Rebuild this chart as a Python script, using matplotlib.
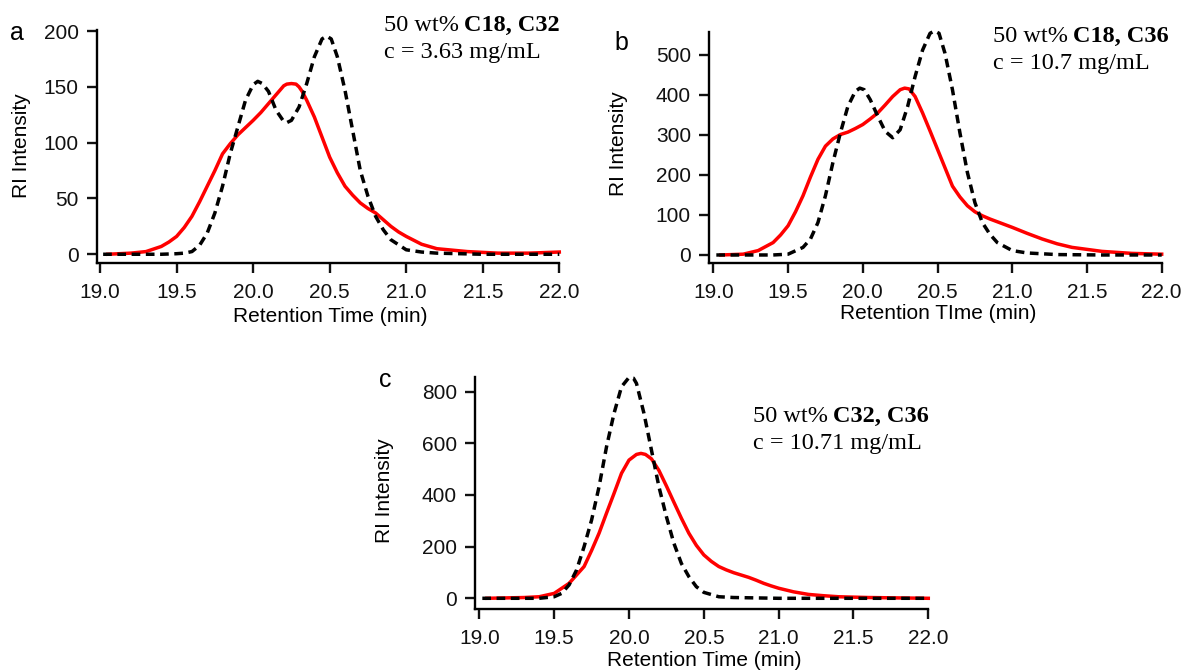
import matplotlib.pyplot as plt

plt.rcParams['font.family'] = 'Liberation Sans'

# --- panel a: 50 wt% C18, C32 ---
a_red_x = [19.05, 19.2, 19.3, 19.4, 19.45, 19.5, 19.55, 19.6, 19.65, 19.7, 19.75, 19.8, 19.85, 19.9, 20.0,
           20.05, 20.1, 20.15, 20.2, 20.22, 20.25, 20.28, 20.3, 20.32, 20.35, 20.4, 20.45, 20.5, 20.55,
           20.6, 20.65, 20.7, 20.75, 20.8, 20.85, 20.9, 20.95, 21.0, 21.1, 21.2, 21.4, 21.6, 21.8, 22.0]
a_red_y = [0, 1, 2.4, 7, 11, 16, 24, 34, 47, 61, 75, 90, 99, 107, 120,
           127, 135, 143, 151, 152.5, 153, 152.5, 150, 146, 138, 123, 105, 87, 73,
           61, 53, 46, 41, 37, 31, 25, 20, 16, 9, 5, 2.4, 1, 1, 2]
a_dash_x = [19.02, 19.2, 19.4, 19.5, 19.55, 19.6, 19.65, 19.7, 19.75, 19.8, 19.85, 19.9, 19.95, 20.0, 20.03,
            20.06, 20.1, 20.15, 20.2, 20.22, 20.25, 20.3, 20.35, 20.4, 20.45, 20.48, 20.51, 20.55, 20.6,
            20.65, 20.7, 20.75, 20.8, 20.85, 20.9, 21.0, 21.1, 21.2, 21.5, 22.0]
a_dash_y = [0, 0, 0, 0.5, 1, 2.4, 8, 19, 37, 61, 90, 114, 138, 152, 155,
            153, 146, 129, 119, 118, 120, 132, 153, 177, 193, 195.5, 193, 177, 147,
            111, 75, 52, 34, 22, 13, 4, 2, 1, 0, 0]

# --- panel b: 50 wt% C18, C36 ---
b_red_x = [19.05, 19.2, 19.3, 19.4, 19.45, 19.5, 19.55, 19.6, 19.65, 19.7, 19.75, 19.8, 19.85, 19.9, 19.95,
           20.0, 20.05, 20.1, 20.15, 20.2, 20.25, 20.28, 20.31, 20.35, 20.4, 20.45, 20.5, 20.55, 20.6,
           20.65, 20.7, 20.75, 20.8, 20.85, 20.9, 21.0, 21.1, 21.2, 21.3, 21.4, 21.6, 21.8, 22.0]
b_red_y = [0, 2, 11, 31, 50, 73, 108, 148, 195, 239, 272, 290, 301, 307, 316,
           326, 340, 355, 375, 396, 413, 417, 415, 396, 355, 310, 264, 218, 172,
           145, 123, 108, 98, 90, 83, 69, 54, 40, 28, 19, 9, 4, 2]
b_dash_x = [19.02, 19.2, 19.4, 19.5, 19.6, 19.65, 19.7, 19.75, 19.8, 19.85, 19.9, 19.95, 19.98, 20.01,
            20.05, 20.1, 20.15, 20.2, 20.25, 20.3, 20.35, 20.4, 20.45, 20.48, 20.51, 20.55, 20.6, 20.65,
            20.7, 20.75, 20.8, 20.85, 20.9, 21.0, 21.1, 21.3, 21.6, 22.0]
b_dash_y = [0, 0, 0, 2, 19, 40, 81, 148, 231, 305, 371, 409, 417, 413,
            388, 347, 309, 293, 313, 371, 446, 512, 554, 560, 554, 504, 413, 305,
            206, 131, 81, 52, 31, 11, 5, 1, 0, 0]

# --- panel c: 50 wt% C32, C36 ---
c_red_x = [19.05, 19.3, 19.4, 19.5, 19.6, 19.7, 19.75, 19.8, 19.85, 19.9, 19.95, 20.0, 20.05, 20.08,
           20.11, 20.15, 20.2, 20.25, 20.3, 20.35, 20.4, 20.45, 20.5, 20.55, 20.6, 20.65, 20.7, 20.75,
           20.8, 20.85, 20.9, 20.95, 21.0, 21.1, 21.2, 21.3, 21.4, 21.6, 22.0]
c_red_y = [0, 3, 6, 19, 58, 123, 185, 252, 330, 406, 484, 535, 557, 561,
           557, 540, 495, 435, 372, 310, 252, 205, 168, 143, 123, 110, 99, 90,
           81, 70, 58, 48, 39, 25, 15, 10, 6, 3, 0]
c_dash_x = [19.02, 19.2, 19.4, 19.5, 19.55, 19.6, 19.65, 19.7, 19.75, 19.8, 19.85, 19.9, 19.95, 20.0,
            20.03, 20.05, 20.1, 20.15, 20.2, 20.25, 20.3, 20.35, 20.4, 20.45, 20.5, 20.6, 20.7, 21.0, 22.0]
c_dash_y = [0, 0, 0, 6, 19, 52, 110, 200, 303, 432, 587, 716, 819, 855,
            852, 832, 716, 574, 432, 316, 213, 135, 84, 45, 23, 6, 3, 0, 0]

x_ticks = [19.0, 19.5, 20.0, 20.5, 21.0, 21.5, 22.0]
W, H = 1188, 672


def px_rect(left, top, right, bottom):
    return [left / W, 1 - bottom / H, (right - left) / W, (bottom - top) / H]


def draw_panel(rect, xlim, ylim, yticks, red, dash):
    ax = fig.add_axes(rect)
    ax.plot(red[0], red[1], color='#ff0000', lw=2.5, clip_on=False, zorder=2,
            solid_joinstyle='round')
    ax.plot(dash[0], dash[1], color='black', lw=2.5, ls=(0, (2.5, 1.6)), clip_on=False, zorder=3)
    ax.set_xlim(*xlim)
    ax.set_ylim(*ylim)
    ax.set_xticks(x_ticks)
    ax.set_xticklabels([f'{t:.1f}' for t in x_ticks])
    ax.set_yticks(yticks)
    for s in ['top', 'right']:
        ax.spines[s].set_visible(False)
    for s in ['left', 'bottom']:
        ax.spines[s].set_linewidth(1.7)
    ax.tick_params(direction='out', length=7.5, width=1.7, labelsize=15, colors='#111111')
    ax.tick_params(axis='x', pad=7)
    ax.tick_params(axis='y', pad=5.5)
    return ax


def note(x, y, bold, second):
    t1 = fig.text(x / W, 1 - y / H, '50 wt%', family='Liberation Serif', fontsize=17.5, va='baseline')
    fig.canvas.draw()
    bb = t1.get_window_extent()
    fig.text((bb.x1 + 5) / W, 1 - y / H, bold, family='Liberation Serif', fontsize=17.5,
             fontweight='bold', va='baseline')
    fig.text(x / W, 1 - (y + 27) / H, second, family='Liberation Serif', fontsize=17.5, va='baseline')


fig = plt.figure(figsize=(11.88, 6.72), dpi=100)

draw_panel(px_rect(96.7, 30, 559.3, 263.3), (18.978, 22.0), (-8.1, 201), [0, 50, 100, 150, 200],
           (a_red_x, a_red_y), (a_dash_x, a_dash_y))
draw_panel(px_rect(709, 31.7, 1161.7, 263.3), (18.971, 22.0), (-20.8, 558), [0, 100, 200, 300, 400, 500],
           (b_red_x, b_red_y), (b_dash_x, b_dash_y))
draw_panel(px_rect(475, 377.3, 928.3, 609.3), (18.971, 22.0), (-42.6, 855.6), [0, 200, 400, 600, 800],
           (c_red_x, c_red_y), (c_dash_x, c_dash_y))

# panel letters
fig.text(10 / W, 1 - 40 / H, 'a', fontsize=18, va='baseline')
fig.text(614 / W, 1 - 50 / H, 'b', fontsize=18, va='baseline')
fig.text(379 / W, 1 - 387 / H, 'c', fontsize=18, va='baseline')

# axis titles
fig.text(22 / W, 1 - 146 / H, 'RI Intensity', fontsize=15, rotation=90, ha='center', va='center')
fig.text(618 / W, 1 - 144 / H, 'RI Intensity', fontsize=15, rotation=90, ha='center', va='center')
fig.text(384 / W, 1 - 491 / H, 'RI Intensity', fontsize=15, rotation=90, ha='center', va='center')
fig.text(330 / W, 1 - 322 / H, 'Retention Time (min)', fontsize=15, ha='center', va='baseline')
fig.text(937.7 / W, 1 - 319 / H, 'Retention TIme (min)', fontsize=15, ha='center', va='baseline')
fig.text(704 / W, 1 - 666 / H, 'Retention Time (min)', fontsize=15, ha='center', va='baseline')

note(384.4, 30.7, 'C18, C32', 'c = 3.63 mg/mL')
note(993, 41.7, 'C18, C36', 'c = 10.7 mg/mL')
note(752.6, 421.7, 'C32, C36', 'c = 10.71 mg/mL')

fig.savefig('out.png', dpi=100)
